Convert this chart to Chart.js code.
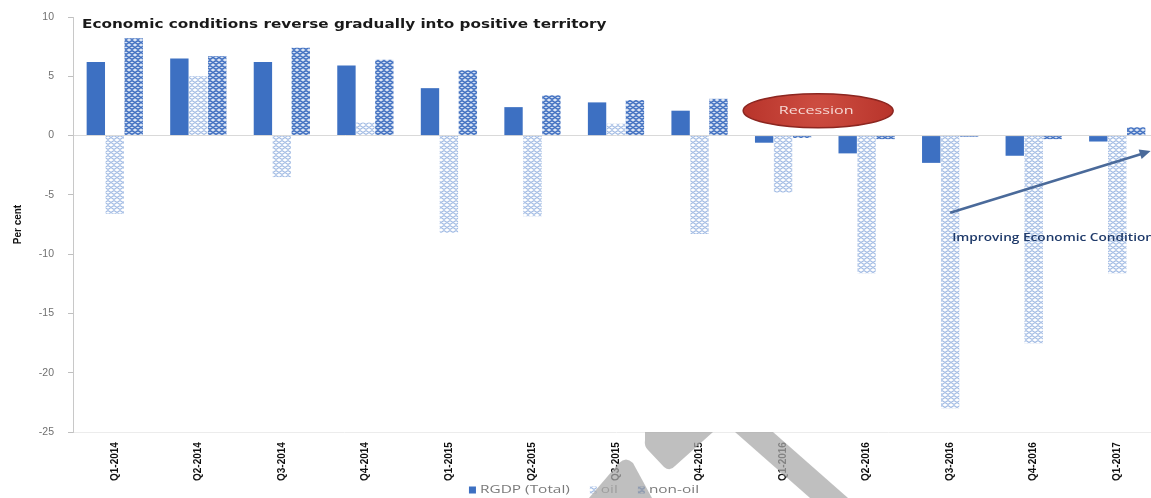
<!DOCTYPE html>
<html>
<head>
<meta charset="utf-8">
<script src="https://cdn.jsdelivr.net/npm/chart.js@4.4.1/dist/chart.umd.min.js"></script>
<style>
  html, body { margin: 0; padding: 0; background: #ffffff; overflow: hidden; }
  #wrap { width: 1165px; height: 498px; }
</style>
</head>
<body>
<div id="wrap"><canvas id="c" width="1165" height="498"></canvas></div>
<script>
// ---- data ----
const categories = ['Q1-2014','Q2-2014','Q3-2014','Q4-2014','Q1-2015','Q2-2015','Q3-2015','Q4-2015','Q1-2016','Q2-2016','Q3-2016','Q4-2016','Q1-2017'];
const rgdpTotal = [6.2, 6.5, 6.2, 5.9, 4.0, 2.4, 2.8, 2.1, -0.6, -1.5, -2.3, -1.7, -0.5];
const oil       = [-6.6, 5.0, -3.5, 1.1, -8.2, -6.8, 1.0, -8.3, -4.8, -11.6, -23.0, -17.5, -11.6];
const nonOil    = [8.2, 6.7, 7.4, 6.4, 5.5, 3.4, 3.0, 3.1, -0.2, -0.3, -0.1, -0.3, 0.7];
const seriesNames = ['RGDP (Total)', 'oil', 'non-oil'];
const yTicks = [10, 5, 0, -5, -10, -15, -20, -25];
const chartTitle = 'Economic conditions reverse gradually into positive territory';
const yTitle = 'Per cent';
const recessionLabel = 'Recession';
const arrowLabel = 'Improving Economic Condition';

// ---- patterns ----
function makePattern(bg, fg, lw) {
  const c = document.createElement('canvas');
  c.width = 6; c.height = 5;
  const x = c.getContext('2d');
  x.fillStyle = bg; x.fillRect(0, 0, 6, 5);
  x.strokeStyle = fg; x.lineWidth = lw;
  x.beginPath();
  x.moveTo(0, 0.5); x.lineTo(3, 2.5); x.lineTo(6, 0.5);
  x.moveTo(0, 4.5); x.lineTo(3, 2.5); x.lineTo(6, 4.5);
  x.stroke();
  return x.createPattern(c, 'repeat');
}
const oilPattern = makePattern('#ffffff', '#a3bce4', 1.1);
const nonOilPattern = makePattern('#dbe5f4', '#3f6fc0', 1.5);

// draw text stretched horizontally
function stretchText(ctx, text, x, y, sx, align) {
  ctx.save();
  const w = ctx.measureText(text).width * sx;
  let left = x;
  if (align === 'center') left = x - w / 2;
  ctx.translate(left, y);
  ctx.scale(sx, 1);
  ctx.textAlign = 'left';
  ctx.fillText(text, 0, 0);
  ctx.restore();
  return w;
}

// ---- decorations ----
const decor = {
  id: 'decor',
  afterDatasetsDraw(chart) {
    const ctx = chart.ctx, x = chart.scales.x, y = chart.scales.y, a = chart.chartArea;
    const step = x.getPixelForValue(1) - x.getPixelForValue(0);
    ctx.save();
    ctx.textBaseline = 'middle';
    // title inside the plot
    ctx.font = 'bold 12.5px "DejaVu Sans"';
    ctx.fillStyle = '#1a1a1a';
    stretchText(ctx, chartTitle, a.left + 9, a.top + 8, 1.22, 'left');

    // recession ellipse
    const ex = x.getPixelForValue(8) + step * 0.42;
    const ey = y.getPixelForValue(2.1);
    ctx.beginPath();
    ctx.ellipse(ex, ey, 75, 17, 0, 0, Math.PI * 2);
    const g = ctx.createRadialGradient(ex, ey - 4, 5, ex, ey, 75);
    g.addColorStop(0, '#cc4c40');
    g.addColorStop(1, '#b8342b');
    ctx.fillStyle = g;
    ctx.fill();
    ctx.lineWidth = 1.5;
    ctx.strokeStyle = '#8c2620';
    ctx.stroke();
    ctx.fillStyle = '#f6d9d4';
    ctx.font = '11.5px "Open Sans"';
    stretchText(ctx, recessionLabel, ex - 2, ey, 1.4, 'center');

    // arrow
    const x0 = x.getPixelForValue(10), y0 = y.getPixelForValue(-6.5);
    const x1 = x.getPixelForValue(12) + step * 0.4;
    const y1 = y.getPixelForValue(-1.3);
    ctx.strokeStyle = '#4a6a9a';
    ctx.fillStyle = '#4a6a9a';
    ctx.lineWidth = 2.5;
    ctx.beginPath(); ctx.moveTo(x0, y0); ctx.lineTo(x1 - 6, y1 + 2); ctx.stroke();
    const ang = Math.atan2(y1 - y0, x1 - x0);
    ctx.beginPath();
    ctx.moveTo(x1, y1);
    ctx.lineTo(x1 - 11 * Math.cos(ang) + 5 * Math.sin(ang), y1 - 11 * Math.sin(ang) - 5 * Math.cos(ang));
    ctx.lineTo(x1 - 11 * Math.cos(ang) - 5 * Math.sin(ang), y1 - 11 * Math.sin(ang) + 5 * Math.cos(ang));
    ctx.closePath(); ctx.fill();

    ctx.font = '600 10.5px "Open Sans"';
    ctx.fillStyle = '#1f3a6a';
    stretchText(ctx, arrowLabel, x0 + 2, y.getPixelForValue(-8.6), 1.3, 'left');
    ctx.restore();
  },
  afterDraw(chart) {
    const ctx = chart.ctx;
    // legend (drawn manually, centred below the axis labels)
    ctx.save();
    ctx.font = '11px "Open Sans"';
    ctx.textBaseline = 'middle';
    const sx = 1.4, gap = 20, boxW = 7;
    const ds = chart.data.datasets;
    let total = 0;
    const widths = ds.map(d => ctx.measureText(d.label).width * sx);
    widths.forEach(w => total += boxW + 4 + w);
    total += gap * (ds.length - 1);
    let cx = 584 - total / 2;
    const ly = 490;
    ds.forEach((d, i) => {
      ctx.fillStyle = d.backgroundColor;
      ctx.fillRect(cx, ly - 3.5, boxW, boxW);
      ctx.fillStyle = '#7a7a7a';
      stretchText(ctx, d.label, cx + boxW + 4, ly, sx, 'left');
      cx += boxW + 4 + widths[i] + gap;
    });
    ctx.restore();

    // light gray watermark strokes over the bottom of the image
    ctx.save();
    ctx.fillStyle = 'rgba(170,170,170,0.75)';
    ctx.beginPath();
    ctx.moveTo(645, 432); ctx.lineTo(713, 432); ctx.lineTo(675, 466);
    ctx.quadraticCurveTo(670, 472, 664, 467); ctx.lineTo(648, 450);
    ctx.quadraticCurveTo(644, 446, 645, 440); ctx.closePath(); ctx.fill();
    ctx.beginPath();
    ctx.moveTo(735, 432); ctx.lineTo(773, 432); ctx.lineTo(848, 498); ctx.lineTo(810, 498); ctx.closePath(); ctx.fill();
    ctx.beginPath();
    ctx.moveTo(589, 498); ctx.lineTo(619, 463);
    ctx.quadraticCurveTo(626, 456, 633, 463); ctx.lineTo(652, 498); ctx.closePath(); ctx.fill();
    ctx.restore();
  }
};

new Chart(document.getElementById('c'), {
  type: 'bar',
  data: {
    labels: categories,
    datasets: [
      { label: seriesNames[0], data: rgdpTotal, backgroundColor: '#3d70c2', borderWidth: 0 },
      { label: seriesNames[1], data: oil, backgroundColor: oilPattern, borderWidth: 0 },
      { label: seriesNames[2], data: nonOil, backgroundColor: nonOilPattern, borderWidth: 0 }
    ]
  },
  options: {
    responsive: false,
    animation: false,
    devicePixelRatio: 1,
    datasets: { bar: { categoryPercentage: 0.68, barPercentage: 0.97 } },
    layout: { padding: { top: 17, right: 6, left: 0, bottom: 15 } },
    plugins: {
      legend: { display: false },
      tooltip: { enabled: false },
      title: { display: false }
    },
    scales: {
      x: {
        grid: { display: false },
        border: { display: true, color: '#ececec' },
        ticks: {
          autoSkip: false, maxRotation: 90, minRotation: 90, padding: 2,
          color: '#111111',
          font: { family: '"Liberation Sans Narrow", "Liberation Sans"', size: 10, weight: 'bold' }
        }
      },
      y: {
        min: -25, max: 10,
        afterBuildTicks(s) { s.ticks = yTicks.map(v => ({ value: v })); },
        grid: {
          color: ctx => (ctx.tick && ctx.tick.value === 0) ? '#d9d9d9' : 'rgba(0,0,0,0)',
          tickColor: '#bfbfbf', tickLength: 5, drawTicks: true
        },
        border: { display: true, color: '#c8c8c8' },
        ticks: { color: '#707070', padding: 14, font: { family: '"Liberation Sans"', size: 10.5 } },
        title: {
          display: true, text: yTitle, color: '#111111', padding: { top: 12, bottom: 0 },
          font: { family: '"Liberation Sans Narrow", "Liberation Sans"', size: 10, weight: 'bold' }
        },
        afterFit(s) { s.width = 73; s.paddingTop = 0; }
      }
    }
  },
  plugins: [decor]
});
</script>
</body>
</html>
